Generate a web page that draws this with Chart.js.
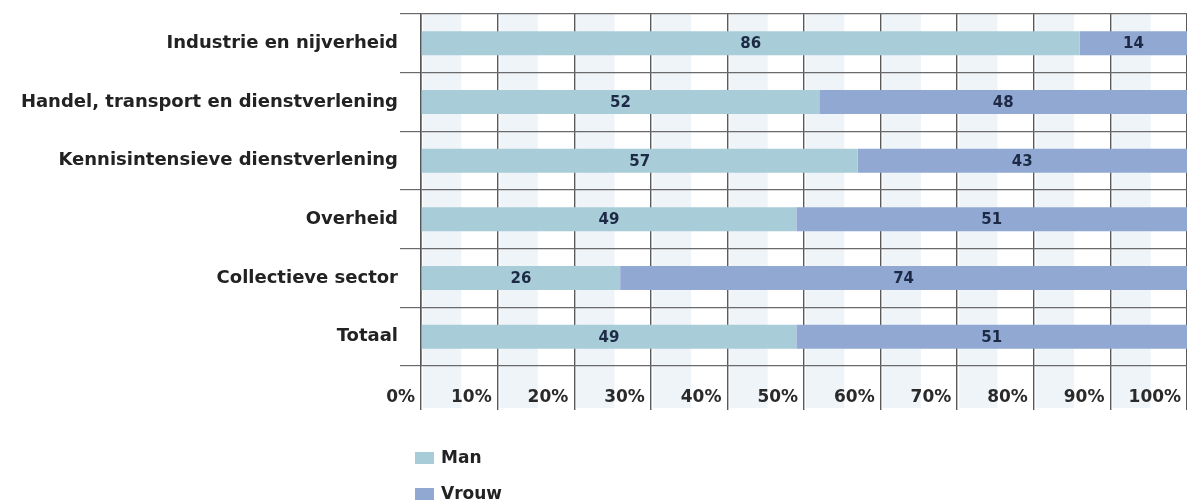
<!DOCTYPE html>
<html>
<head>
<meta charset="utf-8">
<script src="https://cdn.jsdelivr.net/npm/chart.js@4.4.1/dist/chart.umd.min.js"></script>
<style>
  html, body { margin: 0; padding: 0; background: #fff; overflow: hidden; }
  #wrap { position: relative; width: 1187px; height: 502px; }
</style>
</head>
<body>
<div id="wrap"><canvas id="grafiek"></canvas></div>
<script>
// sectoren en aandelen (%)
const sectoren = [
  "Industrie en nijverheid",
  "Handel, transport en dienstverlening",
  "Kennisintensieve dienstverlening",
  "Overheid",
  "Collectieve sector",
  "Totaal"
];
const man   = [86, 52, 57, 49, 26, 49];
const vrouw = [14, 48, 43, 51, 74, 51];
const reeksNamen = ["Man", "Vrouw"];
const tickStappen = [0, 10, 20, 30, 40, 50, 60, 70, 80, 90, 100];

const kleurMan = "#a8ccd8";
const kleurVrouw = "#91a8d3";
const lettertype = "'DejaVu Sans', sans-serif";

// lichte banden op de achtergrond (voor de assen getekend)
const achtergrondBanden = {
  id: "achtergrondBanden",
  beforeDraw(chart) {
    const ctx = chart.ctx;
    const x = chart.scales.x;
    const area = chart.chartArea;
    if (!x) return;
    ctx.save();
    ctx.fillStyle = "rgba(214,228,240,0.4)";
    for (let i = 0; i < tickStappen.length - 1; i++) {
      const a = x.getPixelForValue(tickStappen[i]);
      const b = x.getPixelForValue(tickStappen[i + 1]);
      ctx.fillRect(a + 2, area.top, (b - a) * 0.5, area.bottom - area.top + 42);
    }
    ctx.restore();
  }
};

// getallen in de balken
const balkLabels = {
  id: "balkLabels",
  afterDatasetsDraw(chart) {
    const ctx = chart.ctx;
    ctx.save();
    ctx.font = "bold 15px " + lettertype;
    ctx.fillStyle = "#1d2a45";
    ctx.textAlign = "center";
    ctx.textBaseline = "middle";
    chart.data.datasets.forEach((ds, di) => {
      chart.getDatasetMeta(di).data.forEach((bar, i) => {
        const p = bar.getProps(["x", "base", "y"], true);
        ctx.fillText(ds.data[i], (p.x + p.base) / 2, p.y + 1);
      });
    });
    ctx.restore();
  }
};

// legenda onder elkaar
const legendaLijst = {
  id: "legendaLijst",
  afterDraw(chart) {
    const ctx = chart.ctx;
    const area = chart.chartArea;
    ctx.save();
    ctx.font = "bold 17px " + lettertype;
    ctx.textBaseline = "middle";
    chart.data.datasets.forEach((ds, i) => {
      const y = area.bottom + 92 + i * 36;
      ctx.fillStyle = ds.backgroundColor;
      ctx.fillRect(area.left - 6, y - 6, 19, 12);
      ctx.fillStyle = "#222";
      ctx.fillText(ds.label, area.left + 20, y + 1);
    });
    ctx.restore();
  }
};

const ctx = document.getElementById("grafiek").getContext("2d");
const myChart = new Chart(ctx, {
  type: "bar",
  data: {
    labels: sectoren,
    datasets: [
      { label: reeksNamen[0], data: man, backgroundColor: kleurMan },
      { label: reeksNamen[1], data: vrouw, backgroundColor: kleurVrouw }
    ]
  },
  options: {
    indexAxis: "y",
    responsive: true,
    maintainAspectRatio: false,
    animation: false,
    datasets: { bar: { categoryPercentage: 1, barPercentage: 0.41, borderWidth: 0 } },
    layout: { padding: { top: 14, right: 0, bottom: 86, left: 0 } },
    scales: {
      x: {
        stacked: true,
        min: 0,
        max: 100,
        afterBuildTicks(scale) {
          scale.ticks = tickStappen.map(v => ({ value: v }));
        },
        afterFit(scale) { scale.height = 50; },
        grid: { color: "#5a5a5a", lineWidth: 1.4, tickLength: 44, drawTicks: true },
        border: { display: false },
        ticks: {
          align: "end",
          padding: -23,
          color: "#2a2a2a",
          font: { family: lettertype, size: 17, weight: "bold" },
          callback: v => v + "% "
        }
      },
      y: {
        stacked: true,
        afterFit(scale) { scale.width = 421; },
        grid: { offset: true, color: "#6a6a6a", lineWidth: 1.2, tickLength: 21 },
        border: { display: true, color: "#555", width: 1.5 },
        ticks: {
          padding: 2,
          color: "#222",
          font: { family: lettertype, size: 18, weight: "bold" }
        }
      }
    },
    plugins: {
      legend: { display: false },
      tooltip: { enabled: false }
    }
  },
  plugins: [achtergrondBanden, balkLabels, legendaLijst]
});
</script>
</body>
</html>
